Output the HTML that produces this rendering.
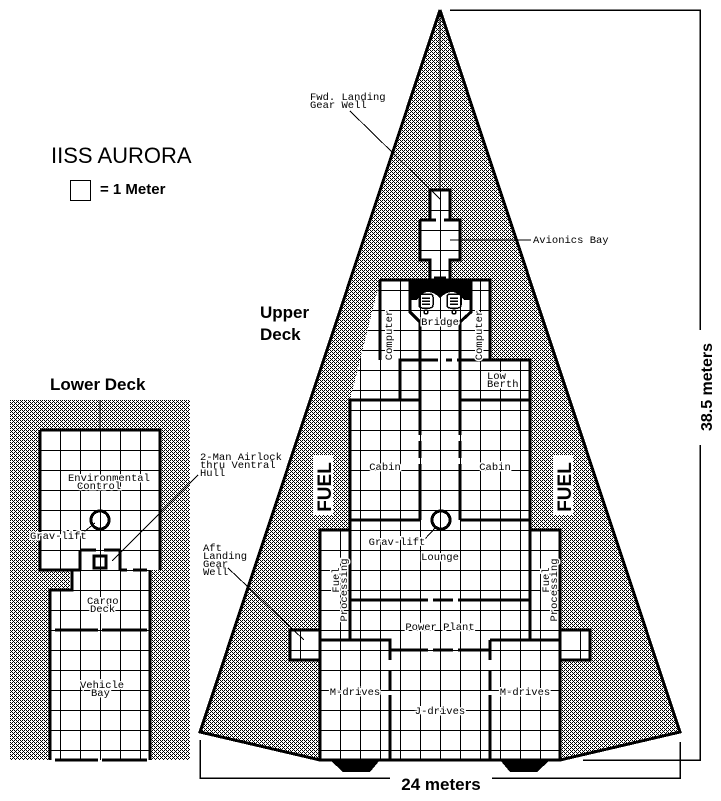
<!DOCTYPE html>
<html><head><meta charset="utf-8"><style>
html,body{margin:0;padding:0;background:#fff;}
svg{display:block;}
.m{font-family:"Liberation Mono",monospace;font-size:10.5px;fill:#000;}
.h{paint-order:stroke;stroke:#fff;stroke-width:3px;}
.b{font-family:"Liberation Sans",sans-serif;font-weight:bold;fill:#000;}
</style></head><body>
<svg width="721" height="801" viewBox="0 0 721 801" xmlns="http://www.w3.org/2000/svg" shape-rendering="crispEdges">
<defs>
<pattern id="st" width="4" height="4" patternUnits="userSpaceOnUse">
<rect width="4" height="4" fill="#fff"/>
<rect x="0" y="0" width="1" height="1" fill="#000"/><rect x="2" y="0" width="1" height="1" fill="#000"/>
<rect x="1" y="1" width="1" height="1" fill="#000"/>
<rect x="0" y="2" width="1" height="1" fill="#000"/><rect x="2" y="2" width="1" height="1" fill="#000"/>
<rect x="3" y="3" width="1" height="1" fill="#000"/>
</pattern>
<pattern id="g" width="20" height="20" patternUnits="userSpaceOnUse">
<rect width="20" height="20" fill="#fff"/>
<rect x="0" y="0" width="1" height="20" fill="#000"/>
<rect x="0" y="10" width="20" height="1" fill="#000"/>
</pattern>
</defs>

<!-- Lower deck -->
<rect x="10" y="400" width="180" height="360" fill="url(#st)"/>
<line x1="100" y1="400" x2="100" y2="430" stroke="#000"/>
<polygon points="40,430 160,430 160,570 150,570 150,760 50,760 50,590 70,590 70,570 40,570" fill="url(#g)"/>
<g stroke="#000" stroke-width="3" fill="none">
<path d="M40,430 H160 V570 M40,430 V570 H80 M120,570 H127 M133,570 H147 M150,570 V760 M72,570 V590 H50 V760"/>
<path d="M80,550 V570 M120,550 V570 M80,550 H96 M104,550 H120 M55,630 H98 M102,630 H147 M55,760 H98 M102,760 H147"/>
<rect x="94" y="556" width="12" height="12"/>
<circle cx="100" cy="520" r="9"/>
</g>
<line x1="112" y1="561" x2="198" y2="475" stroke="#000"/>
<line x1="80" y1="535" x2="95" y2="523" stroke="#000"/>
<text class="m h" x="68" y="481">Environmental</text>
<text class="m h" x="77" y="489">Control</text>
<text class="m h" x="30" y="539">Grav-lift</text>
<text class="m h" x="87" y="604">Cargo</text>
<text class="m h" x="90" y="612">Deck</text>
<text class="m h" x="80" y="688">Vehicle</text>
<text class="m h" x="91" y="696">Bay</text>
<text class="m" x="200" y="460">2-Man Airlock</text>
<text class="m" x="200" y="468">thru Ventral</text>
<text class="m" x="200" y="476">Hull</text>

<!-- Upper deck hull -->
<polygon points="440,10 680,732 560,760 320,760 200,732" fill="url(#st)"/>
<polygon points="430,190 450,190 450,220 460,220 460,260 450,260 450,280 490,280 490,360 530,360 530,530 560,530 560,630 590,630 590,660 560,660 560,760 320,760 320,660 290,660 290,630 320,630 320,530 350,530 350,400 380,280 430,280 430,260 420,260 420,220 430,220" fill="url(#g)"/>
<line x1="440" y1="10" x2="440" y2="190" stroke="#000"/>
<g stroke="#000" stroke-width="3" fill="none" stroke-linejoin="miter">
<path d="M440,10 L200,732 L320,760 M440,10 L680,732 L560,760"/>
<path d="M430,220 V190 H450 V220 M420,220 H436 M444,220 H460 V260 H450 V280 M420,220 V260 H430 V280 M434,278 H446"/>
<path d="M380,280 H490 V360 M380,280 V360"/>
<path d="M410,280 V312 L420,322 V360 M471,280 V312 L460,322 V360"/>
<path d="M400,400 V360 H438 M446,360 H452 M457,360 H530 V530 H560 V760 H320 V530 H350 V400 H400"/>
<path d="M350,400 H420 M460,400 H530"/>
<path d="M420,360 V435 M420,441 V458 M420,464 V520 M460,360 V435 M460,441 V458 M460,464 V520"/>
<path d="M350,520 H420 M460,520 H530"/>
<path d="M350,520 V640 M530,520 V640"/>
<path d="M350,600 H428 M433,600 H453 M458,600 H530"/>
<path d="M320,640 H390 V660 M390,670 V690 M390,695 V760 M390,650 H428 M433,650 H453 M458,650 H490 M490,640 H560 M490,640 V660 M490,670 V690 M490,695 V760"/>
<path d="M320,630 H290 V660 H320 M560,630 H590 V660 H560"/>
</g>
<path d="M410,280 H471 V300 H464 Q458,292 452,292 Q446,292 440,298 Q434,292 428,292 Q422,292 417,300 H410 Z" fill="#000"/>
<g fill="none" stroke="#000" stroke-width="1.5">
<rect x="419" y="294" width="14" height="14" rx="3"/><line x1="422" y1="298" x2="430" y2="298"/><line x1="422" y1="301" x2="430" y2="301"/><line x1="422" y1="304" x2="430" y2="304"/><circle cx="426" cy="312" r="2"/>
<rect x="447" y="294" width="14" height="14" rx="3"/><line x1="450" y1="298" x2="458" y2="298"/><line x1="450" y1="301" x2="458" y2="301"/><line x1="450" y1="304" x2="458" y2="304"/><circle cx="454" cy="312" r="2"/>
</g>
<circle cx="441" cy="520" r="9" fill="none" stroke="#000" stroke-width="3"/>
<polygon points="330,760 380,760 370,772 343,772" fill="#000"/>
<polygon points="500,760 550,760 537,772 510,772" fill="#000"/>
<g stroke="#000" stroke-width="1" fill="none">
<line x1="350" y1="111" x2="441" y2="200"/>
<line x1="450" y1="240" x2="531" y2="240"/>
<line x1="424" y1="540" x2="436" y2="527"/>
<line x1="228" y1="568" x2="304" y2="640"/>
</g>
<text class="m" x="310" y="100">Fwd. Landing</text>
<text class="m" x="310" y="108">Gear Well</text>
<text class="m" x="533" y="243">Avionics Bay</text>
<text class="m h" x="440" y="325" text-anchor="middle">Bridge</text>
<text class="m h" transform="translate(392,335) rotate(-90)" text-anchor="middle">Computer</text>
<text class="m h" transform="translate(482,335) rotate(-90)" text-anchor="middle">Computer</text>
<text class="m h" x="487" y="379">Low</text>
<text class="m h" x="487" y="387">Berth</text>
<text class="m h" x="385" y="470" text-anchor="middle">Cabin</text>
<text class="m h" x="495" y="470" text-anchor="middle">Cabin</text>
<text class="m h" x="397" y="545" text-anchor="middle">Grav-lift</text>
<text class="m h" x="440" y="560" text-anchor="middle">Lounge</text>
<text class="m h" transform="translate(339,580) rotate(-90)" text-anchor="middle">Fuel</text>
<text class="m h" transform="translate(347,590) rotate(-90)" text-anchor="middle">Processing</text>
<text class="m h" transform="translate(549,580) rotate(-90)" text-anchor="middle">Fuel</text>
<text class="m h" transform="translate(557,590) rotate(-90)" text-anchor="middle">Processing</text>
<text class="m h" x="440" y="630" text-anchor="middle">Power Plant</text>
<text class="m h" x="355" y="695" text-anchor="middle">M-drives</text>
<text class="m h" x="525" y="695" text-anchor="middle">M-drives</text>
<text class="m h" x="440" y="714" text-anchor="middle">J-drives</text>
<text class="m" x="203" y="551">Aft</text>
<text class="m" x="203" y="559">Landing</text>
<text class="m" x="203" y="567">Gear</text>
<text class="m" x="203" y="575">Well</text>
<rect x="313" y="455" width="20" height="60" fill="#fff"/>
<text class="b" font-size="19" transform="translate(331,487) rotate(-90)" text-anchor="middle">FUEL</text>
<rect x="553" y="455" width="20" height="60" fill="#fff"/>
<text class="b" font-size="19" transform="translate(571,487) rotate(-90)" text-anchor="middle">FUEL</text>

<g stroke="#000" stroke-width="1.5" fill="none">
<path d="M450,10 H700 V330 M700,445 V760 H583"/>
<path d="M200,740 V778 H390 M492,778 H680 V742"/>
</g>
<text class="b" font-size="16" transform="translate(712,387) rotate(-90)" text-anchor="middle">38.5 meters</text>
<text class="b" font-size="17" x="441" y="790" text-anchor="middle">24 meters</text>

<text x="51" y="163" font-family="Liberation Sans,sans-serif" font-size="22" fill="#000">IISS AURORA</text>
<rect x="70.5" y="180.5" width="20" height="20" fill="none" stroke="#000" stroke-width="1"/>
<text class="b" font-size="15" x="100" y="194">= 1 Meter</text>
<text class="b" font-size="17" x="260" y="318">Upper</text>
<text class="b" font-size="17" x="260" y="340">Deck</text>
<text class="b" font-size="17" x="50" y="390">Lower Deck</text>
</svg>
</body></html>
